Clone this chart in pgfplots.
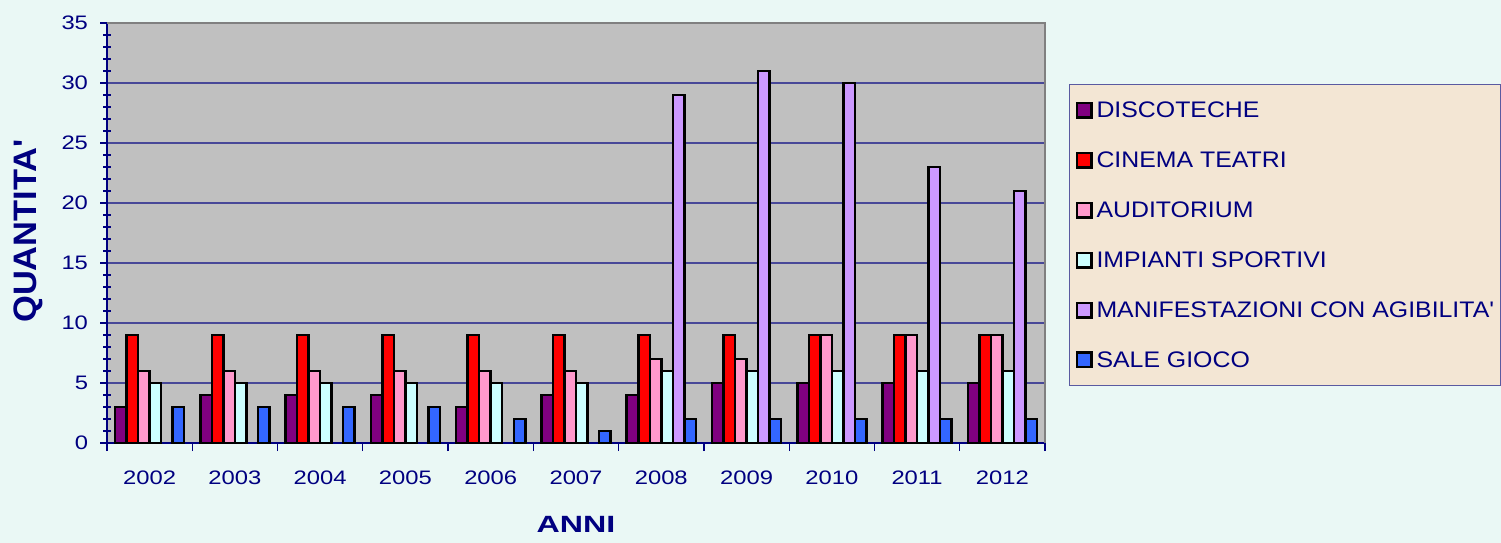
\documentclass[border=0pt]{standalone}
\usepackage{fontspec}
\setmainfont{Liberation Sans}
\newfontfamily\tickfont[FakeStretch=1.22]{Liberation Sans}
\newfontfamily\legfont[FakeStretch=1.105]{Liberation Sans}
\newfontfamily\xlabfont[FakeStretch=1.37]{Liberation Sans}
\newfontfamily\ylabfont[FakeStretch=1.06]{Liberation Sans}
\usepackage{pgfplots}
\pgfplotsset{compat=1.18}
\definecolor{bgmint}{RGB}{234,248,245}
\definecolor{plotgray}{RGB}{192,192,192}
\definecolor{navy}{RGB}{0,0,128}
\definecolor{gridblue}{RGB}{72,72,152}
\definecolor{legbg}{RGB}{243,230,212}
\definecolor{legborder}{RGB}{90,90,160}
\definecolor{frgray}{RGB}{128,128,128}
\definecolor{cdisc}{RGB}{128,0,128}
\definecolor{ccine}{RGB}{255,0,0}
\definecolor{caudi}{RGB}{255,153,204}
\definecolor{cimpi}{RGB}{204,255,255}
\definecolor{cmani}{RGB}{204,153,255}
\definecolor{csale}{RGB}{51,102,255}
\begin{document}
\begin{tikzpicture}
\fill[bgmint] (0bp,0bp) rectangle (1501bp,543bp);
\useasboundingbox (0bp,0bp) rectangle (1501bp,543bp);
\begin{axis}[
  at={(107bp,100bp)}, anchor=south west, scale only axis,
  width=938bp, height=420bp,
  xmin=-0.5, xmax=10.5, ymin=0, ymax=35,
  axis x line=bottom, axis y line=left,
  axis line style={-, draw=navy, line width=1.5bp},
  axis background/.style={fill=plotgray},
  ybar=0pt, bar width=0.135,
  xtick={0,...,10},
  xticklabels={2002,2003,2004,2005,2006,2007,2008,2009,2010,2011,2012},
  major x tick style={draw=none},
  minor xtick={-0.5,0.5,...,10.5},
  ytick={0,5,...,35},
  minor y tick num=4,
  tick align=outside, major tick length=7bp, minor tick length=8bp,
  tick style={draw=navy, line width=1.2bp},
  minor y tick style={xshift=4bp},
  ymajorgrids,
  major y grid style={draw=gridblue, line width=1.2bp},
  /pgf/number format/assume math mode=true,
  tick label style={font=\fontsize{19.5bp}{22bp}\tickfont, text=navy},
  xticklabel style={yshift=-17bp},
  yticklabel style={xshift=-8.5bp},
  xlabel={ANNI},
  xlabel style={font=\fontsize{23.5bp}{26bp}\xlabfont\bfseries, text=navy,
    at={(axis description cs:0.5,-0.193)}, anchor=center},
  ylabel={QUANTITA'},
  ylabel style={font=\fontsize{32.5bp}{35bp}\ylabfont\bfseries, text=navy,
    at={(axis description cs:-0.0835,0.505)}, anchor=center},
  every axis plot/.append style={draw=black, line width=2.5bp},
  legend image code/.code={\draw[#1, draw=black, line width=2.5bp] (1.25bp,-8bp) rectangle (15.75bp,6.5bp);},
  legend cell align=left,
  legend style={at={(axis description cs:1.0256,0.8548)}, anchor=north west,
    fill=legbg, draw=legborder, line width=1bp,
    font=\fontsize{22.5bp}{24bp}\legfont, text=navy,
    inner xsep=6bp, inner ysep=17bp, row sep=32.7bp, column sep=4bp,
    nodes={inner sep=0pt, text height=16bp, text depth=0bp}},
  clip=false,
  extra description/.code={\draw[frgray, line width=2.5bp] (rel axis cs:0,1) -- (rel axis cs:1,1) -- (rel axis cs:1,0);},
]
\addplot[fill=cdisc] coordinates {(0,3) (1,4) (2,4) (3,4) (4,3) (5,4) (6,4) (7,5) (8,5) (9,5) (10,5)};
\addplot[fill=ccine] coordinates {(0,9) (1,9) (2,9) (3,9) (4,9) (5,9) (6,9) (7,9) (8,9) (9,9) (10,9)};
\addplot[fill=caudi] coordinates {(0,6) (1,6) (2,6) (3,6) (4,6) (5,6) (6,7) (7,7) (8,9) (9,9) (10,9)};
\addplot[fill=cimpi] coordinates {(0,5) (1,5) (2,5) (3,5) (4,5) (5,5) (6,6) (7,6) (8,6) (9,6) (10,6)};
\addplot[fill=cmani] coordinates {(6,29) (7,31) (8,30) (9,23) (10,21)};
\addplot[fill=csale] coordinates {(0,3) (1,3) (2,3) (3,3) (4,2) (5,1) (6,2) (7,2) (8,2) (9,2) (10,2)};
\legend{DISCOTECHE, CINEMA TEATRI, AUDITORIUM, IMPIANTI SPORTIVI, MANIFESTAZIONI CON AGIBILITA', SALE GIOCO}
\end{axis}
\end{tikzpicture}
\end{document}
